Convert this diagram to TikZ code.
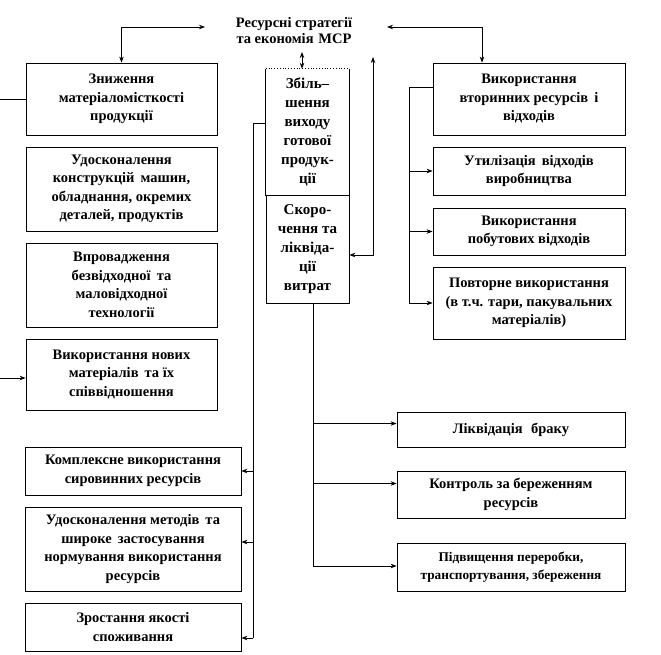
\documentclass[tikz,border=0pt]{standalone}
\usepackage{fontspec}
\setmainfont{Liberation Serif}
\usetikzlibrary{arrows.meta}
\tikzset{
  box/.style={draw, line width=0.8pt, align=center, inner sep=1pt, font=\bfseries\fontsize{14.5}{18.5}\selectfont},
  cbox/.style={align=center, inner sep=1pt, font=\bfseries\fontsize{15}{19}\selectfont},
  conn/.style={line width=0.8pt},
  arr/.style={conn, -{Stealth[length=6pt,width=4.5pt]}},
  darr/.style={conn, {Stealth[length=6pt,width=4.5pt]}-{Stealth[length=6pt,width=4.5pt]}},
}
\begin{document}
\begin{tikzpicture}[x=1pt,y=-1pt]
\useasboundingbox (0,0) rectangle (661,654);
% title
\node[align=center, inner sep=0pt, minimum width=182pt, font=\bfseries\fontsize{14.5}{16}\selectfont] (title) at (294,31) {Ресурсні стратегії\\та економія\,\,МСР};
% left boxes
\node[box, minimum width=191pt, minimum height=72pt] (l1) at (121.5,99) {Зниження\\матеріаломісткості\\продукції};
\node[box, minimum width=191pt, minimum height=84pt] (l2) at (121.5,189) {Удосконалення\\конструкцій\, машин,\\обладнання, окремих\\деталей, продуктів};
\node[box, minimum width=191pt, minimum height=84pt] (l3) at (121.5,285) {Впровадження\\безвідходної\, та\\маловідходної\\технології};
\node[box, minimum width=191pt, minimum height=71pt] (l4) at (121.5,374.5) {Використання нових\\матеріалів\, та їх\\співвідношення};
\node[box, minimum width=216pt, minimum height=48pt] (l5) at (133,471) {Комплексне використання\\сировинних ресурсів};
\node[box, minimum width=216pt, minimum height=84pt] (l6) at (133,549) {Удосконалення методів\, та\\широке\, застосування\\нормування використання\\ресурсів};
\node[box, minimum width=216pt, minimum height=48pt] (l7) at (133,627) {Зростання якості\\споживання};
% centre box
\node[cbox, minimum width=83pt, minimum height=126pt] (c1) at (307.5,132) {Збіль--\\шення\\виходу\\готової\\продук-\\ції};
\node[cbox, draw, line width=0.8pt, minimum width=83pt, minimum height=108pt] (c2) at (307.5,249) {Скоро-\\чення та\\ліквіда-\\ції\\витрат};
\draw[conn] (c1.north west) -- (c1.south west) -- (c1.south east) -- (c1.north east);
\draw[line width=0.8pt, dotted] (c1.north west) -- (c1.north east);
% right boxes
\node[box, minimum width=192pt, minimum height=72pt] (r1) at (529,99) {Використання\\вторинних ресурсів\, і\\відходів};
\node[box, minimum width=192pt, minimum height=48pt] (r2) at (529,171) {Утилізація\, відходів\\виробництва};
\node[box, minimum width=192pt, minimum height=47pt] (r3) at (529,231.5) {Використання\\побутових відходів};
\node[box, minimum width=192pt, minimum height=72pt] (r4) at (529,303) {Повторне використання\\(в т.ч. тари, пакувальних\\матеріалів)};
% bottom right boxes
\node[box, minimum width=228pt, minimum height=35pt] (b1) at (511,429.5) {Ліквідація\,\, браку};
\node[box, minimum width=228pt, minimum height=47pt] (b2) at (511,494.5) {Контроль за береженням\\ресурсів};
\node[box, minimum width=228pt, minimum height=48pt, font=\bfseries\fontsize{13.3}{18.5}\selectfont] (b3) at (511,567) {Підвищення переробки,\\транспортування, збереження};
% coordinates
\coordinate (tl) at (205,27);
\coordinate (tr) at (387,27);
\coordinate (tc) at (302,52);
\coordinate (up) at (373,57);
\coordinate (lout) at (0,99);
\coordinate (lin) at (0,378);
\coordinate (lbus) at (253,638);
\coordinate (bbus) at (313,566);
\coordinate (rbus) at (409,303);
% connectors
\draw[darr] (tl) -| (l1.north);
\draw[darr] (tr) -| ([xshift=-47pt]r1.north);
\draw[darr] (tc) -- (tc |- c1.north);
\draw[darr] (up) |- ([yshift=-6pt]c2.east);
\draw[conn] (lout) -- (l1.west);
\draw[arr] (lin) -- (lin -| l4.west);
% left bus
\draw[conn] ([yshift=9pt]c1.west) -| (lbus);
\draw[arr] (lbus |- l5.east) -- (l5.east);
\draw[arr] ([yshift=7pt]lbus |- l6.east) -- ([yshift=7pt]l6.east);
\draw[arr] (lbus) -- (lbus -| l7.east);
% bottom bus
\draw[conn] (bbus |- c2.south) -- (bbus);
\draw[arr] ([yshift=6pt]bbus |- b1.west) -- ([yshift=6pt]b1.west);
\draw[arr] ([yshift=11pt]bbus |- b2.west) -- ([yshift=11pt]b2.west);
\draw[arr] (bbus) -- (bbus -| b3.west);
% right bus
\draw[conn] ([yshift=12pt]r1.west) -| (rbus);
\draw[arr] (rbus |- r2.west) -- (r2.west);
\draw[arr] (rbus |- r3.west) -- (r3.west);
\draw[arr] (rbus) -- (rbus -| r4.west);
\end{tikzpicture}
\end{document}
